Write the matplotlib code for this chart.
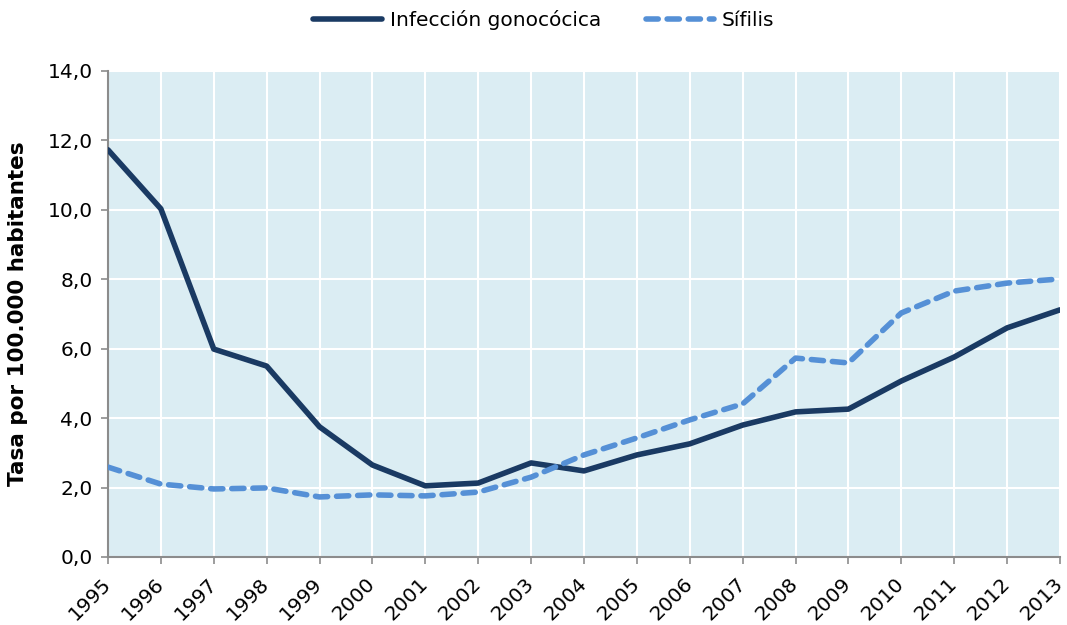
import numpy as np
import matplotlib.pyplot as plt

years = list(range(1995, 2014))
gonococica = [11.73, 10.03, 5.99, 5.50, 3.75, 2.65, 2.05, 2.13, 2.71, 2.48,
              2.94, 3.26, 3.80, 4.18, 4.26, 5.07, 5.76, 6.60, 7.12]
sifilis = [2.59, 2.10, 1.96, 1.99, 1.73, 1.79, 1.76, 1.87, 2.30, 2.94,
           3.43, 3.95, 4.41, 5.73, 5.59, 7.03, 7.66, 7.89, 8.01]
yticks = [0, 2, 4, 6, 8, 10, 12, 14]
ytick_labels = ['0,0', '2,0', '4,0', '6,0', '8,0', '10,0', '12,0', '14,0']

plt.rcParams['font.family'] = ['DejaVu Sans']

fig = plt.figure(figsize=(10.67, 6.25), dpi=100)
ax = fig.add_axes([0.1012, 0.1088, 0.8922, 0.7776])
ax.set_facecolor('#dbedf3')

ax.plot(years, gonococica, color='#1a3a63', lw=4, solid_capstyle='round',
        label='Infección gonocócica', zorder=3)
ax.plot(years, sifilis, color='#5590d6', lw=4, ls=(0, (2.2, 1.6)),
        dash_capstyle='round', label='Sífilis', zorder=3)

ax.set_xlim(1995, 2013)
ax.set_ylim(0, 14)
ax.set_xticks(years)
ax.set_xticklabels([str(y) for y in years], rotation=45, ha='right',
                   va='center', rotation_mode='anchor', fontsize=14.5)
ax.set_yticks(yticks)
ax.set_yticklabels(ytick_labels, fontsize=14.5)
ax.grid(True, color='white', lw=1.5, zorder=1)
ax.set_axisbelow(True)

for s in ['top', 'right']:
    ax.spines[s].set_visible(False)
for s in ['left', 'bottom']:
    ax.spines[s].set_color('#8c8c8c')
    ax.spines[s].set_linewidth(1.5)
ax.tick_params(axis='both', colors='#8c8c8c', labelcolor='black',
               length=5, width=1.2, direction='out')
ax.tick_params(axis='x', pad=12)
ax.tick_params(axis='y', pad=6)

ax.set_ylabel('Tasa por 100.000 habitantes', fontsize=15.5, fontweight='bold',
              labelpad=14)

ax.legend(loc='upper center', bbox_to_anchor=(0.458, 1.162), ncol=2,
          frameon=False, fontsize=14.5, handlelength=3.4, columnspacing=2.2,
          handletextpad=0.4)

fig.savefig('out.png', dpi=100)
